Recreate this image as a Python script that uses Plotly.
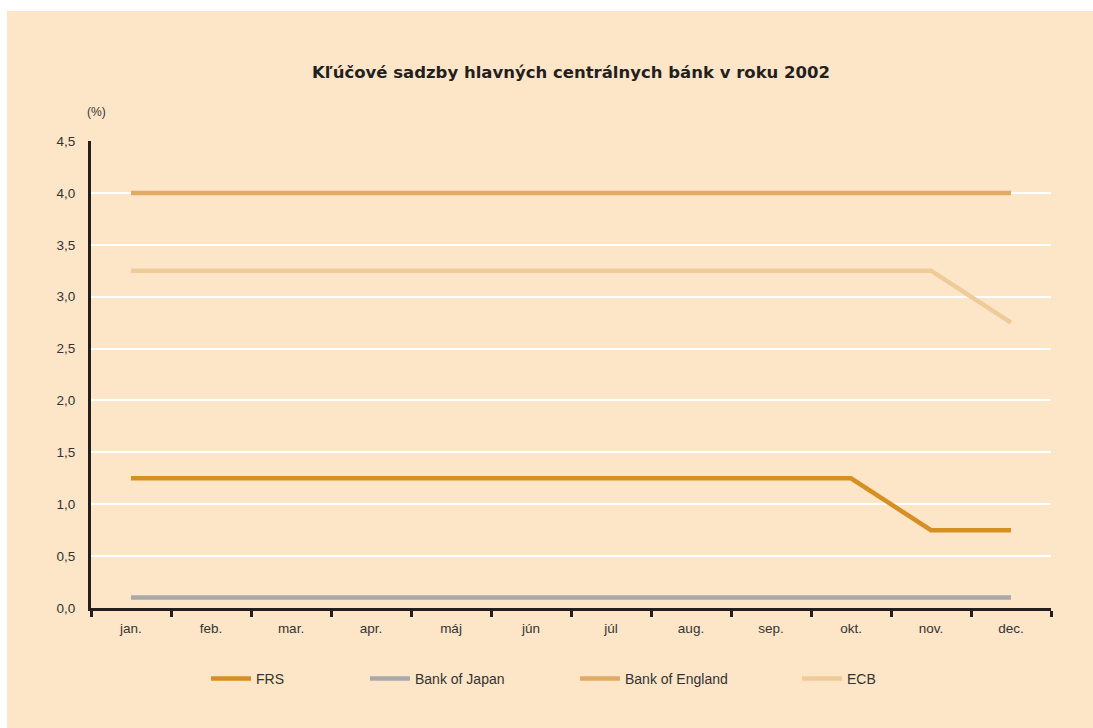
import plotly.graph_objects as go

months = ["jan.", "feb.", "mar.", "apr.", "máj", "jún", "júl", "aug.", "sep.", "okt.", "nov.", "dec."]
frs = [1.25, 1.25, 1.25, 1.25, 1.25, 1.25, 1.25, 1.25, 1.25, 1.25, 0.75, 0.75]
boj = [0.10, 0.10, 0.10, 0.10, 0.10, 0.10, 0.10, 0.10, 0.10, 0.10, 0.10, 0.10]
boe = [4.0, 4.0, 4.0, 4.0, 4.0, 4.0, 4.0, 4.0, 4.0, 4.0, 4.0, 4.0]
ecb = [3.25, 3.25, 3.25, 3.25, 3.25, 3.25, 3.25, 3.25, 3.25, 3.25, 3.25, 2.75]

series = [
    ("FRS", frs, "#D68F22", "legend"),
    ("Bank of Japan", boj, "#A9A9AB", "legend2"),
    ("Bank of England", boe, "#E2AA62", "legend3"),
    ("ECB", ecb, "#EECB99", "legend4"),
]

W, H = 1093, 728
L, R, T, B = 91, 42, 141, 120
pw, ph = W - L - R, H - T - B

def px2x(px):
    return (px - L) / pw

def py2y(py):
    return (H - B - py) / ph

fig = go.Figure()
for name, vals, color, lg in series:
    fig.add_trace(go.Scatter(x=months, y=vals, name=name, mode="lines",
                             line=dict(color=color, width=4.5), legend=lg))

FAM = "Liberation Sans, Arial, sans-serif"
font = dict(family=FAM, size=13.5, color="#333333")
legfont = dict(family=FAM, size=14, color="#333333")
legend_x = [206, 365, 575, 797]
legs = {}
for i, key in enumerate(["legend", "legend2", "legend3", "legend4"]):
    legs[key] = dict(x=px2x(legend_x[i]), xanchor="left", y=py2y(679), yanchor="middle",
                     orientation="h", bgcolor="rgba(0,0,0,0)", font=legfont,
                     itemwidth=40, borderwidth=0)

fig.update_layout(
    width=W, height=H,
    margin=dict(l=L, r=R, t=T, b=B),
    paper_bgcolor="white",
    plot_bgcolor="rgba(0,0,0,0)",
    separators=", ",
    showlegend=True,
    font=font,
    title=dict(text="<b>Kľúčové sadzby hlavných centrálnych bánk v roku 2002</b>",
               x=px2x(571), xref="paper", xanchor="center", y=1 - 72 / H, yanchor="middle",
               font=dict(family="DejaVu Sans, sans-serif", size=16.5, color="#231F20")),
    shapes=[dict(type="rect", xref="paper", yref="paper", layer="below",
                 x0=px2x(7), x1=px2x(W + 5), y0=py2y(H + 5), y1=py2y(11),
                 fillcolor="#FDE6C7", line=dict(width=0))],
    annotations=[dict(text="(%)", xref="paper", yref="paper", x=px2x(96), y=py2y(112),
                      xanchor="center", yanchor="middle", showarrow=False,
                      font=dict(family=FAM, size=12, color="#333333"))],
    xaxis=dict(type="category", range=[-0.5, 11.5], showgrid=False, showline=True,
               linecolor="#231F20", linewidth=3,
               ticks="outside", tickson="boundaries", ticklen=6, tickwidth=3, tickcolor="#231F20",
               tickfont=font, zeroline=False, ticklabelstandoff=6),
    yaxis=dict(range=[0, 4.5], tickvals=[0, 0.5, 1, 1.5, 2, 2.5, 3, 3.5, 4, 4.5], tickformat=".1f",
               showgrid=True, gridcolor="white", gridwidth=2, showline=True, linecolor="#231F20",
               linewidth=3, ticks="", tickfont=font, zeroline=False, ticklabelstandoff=10),
    **legs,
)

fig.write_html("out.html")
